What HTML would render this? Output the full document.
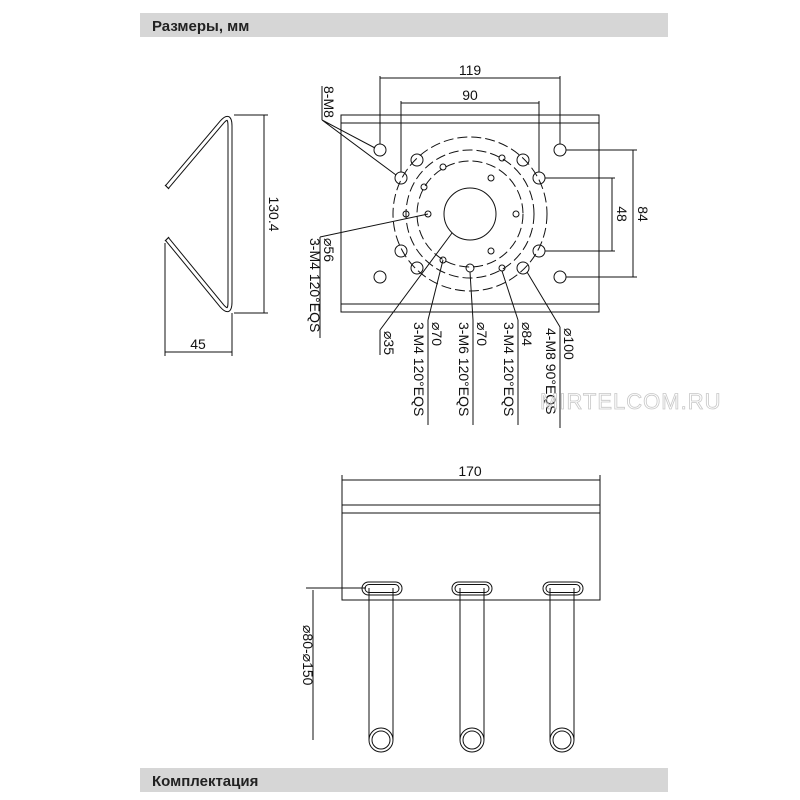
<!DOCTYPE html>
<html><head><meta charset="utf-8"><style>
body{margin:0;background:#fff;}
svg{display:block;font-family:"Liberation Sans","DejaVu Sans",sans-serif;}
</style></head><body>
<svg width="800" height="800" viewBox="0 0 800 800">
<rect x="140" y="13" width="528" height="24" fill="#d6d6d6"/>
<text x="152" y="31" font-size="15" font-weight="bold" fill="#222">Размеры, мм</text>
<rect x="140" y="768" width="528" height="24" fill="#d6d6d6"/>
<text x="152" y="786" font-size="15" font-weight="bold" fill="#222">Комплектация</text>

<!-- side view wire (double line) -->
<path d="M167 187 L222 122 Q230 113 230 126 L230 302 Q230 315 222 306 L167 239" fill="none" stroke="#111" stroke-width="5" stroke-linejoin="round"/>
<path d="M167 187 L222 122 Q230 113 230 126 L230 302 Q230 315 222 306 L167 239" fill="none" stroke="#fff" stroke-width="3" stroke-linejoin="round"/>
<path d="M165 185 L169 189 M165 241 L169 237" stroke="#111" stroke-width="1.2"/>

<g stroke="#111" stroke-width="1" fill="none">
<path d="M234 115 L268 115 M234 313 L268 313 M264 115 L264 313"/>
<path d="M165 243 L165 356 M232 313 L232 356 M165 352 L232 352"/>

<!-- top view plate -->
<rect x="341" y="115" width="258" height="197"/>
<path d="M341 123 L599 123 M341 304 L599 304"/>
<circle cx="470" cy="214" r="26"/>
<g stroke-dasharray="10 4">
<circle cx="470" cy="214" r="53"/>
<circle cx="470" cy="214" r="64"/>
<circle cx="470" cy="214" r="77"/>
</g>
<circle cx="380" cy="150" r="6"/><circle cx="560" cy="150" r="6"/>
<circle cx="380" cy="277" r="6"/><circle cx="560" cy="277" r="6"/>
<circle cx="401" cy="178" r="6"/><circle cx="539" cy="178" r="6"/>
<circle cx="401" cy="251" r="6"/><circle cx="539" cy="251" r="6"/>
<circle cx="417" cy="160" r="6"/><circle cx="523" cy="160" r="6"/>
<circle cx="417" cy="268" r="6"/><circle cx="523" cy="268" r="6"/>
<circle cx="443" cy="167" r="3"/><circle cx="502" cy="158" r="3"/>
<circle cx="424" cy="187" r="3"/><circle cx="491" cy="178" r="3"/>
<circle cx="516" cy="214" r="3"/><circle cx="406" cy="214" r="3"/>
<circle cx="428" cy="214" r="3"/><circle cx="491" cy="251" r="3"/>
<circle cx="443" cy="260" r="3"/><circle cx="502" cy="268" r="3"/>
<circle cx="470" cy="268" r="4"/>
<!-- dims -->
<path d="M380 76 L380 144 M560 76 L560 144 M380 78 L560 78"/>
<path d="M401 101 L401 172 M539 101 L539 172 M401 103 L539 103"/>
<path d="M566 150 L637 150 M566 277 L637 277 M633 150 L633 277"/>
<path d="M545 178 L615 178 M545 251 L615 251 M612 178 L612 251"/>
<!-- leaders -->
<path d="M322 120 L375 148 M322 120 L396 175 M322 86 L322 120"/>
<path d="M320 237 L320 338 M320 237 L428 214"/>
<path d="M380 330 L380 355 M380 330 L452 233"/>
<path d="M428 320 L428 425 M428 320 L443 260"/>
<path d="M473 320 L473 425 M473 320 L470 272"/>
<path d="M518 320 L518 425 M518 320 L502 271"/>
<path d="M560 327 L560 428 M560 327 L527 272"/>

<!-- bottom view -->
<rect x="342" y="505" width="258" height="95"/>
<path d="M342 513 L600 513"/>
<path d="M342 475 L342 505 M600 475 L600 505 M342 480 L600 480"/>
<g>
<rect x="362" y="582" width="40" height="13" rx="6.5"/><rect x="365" y="584.5" width="34" height="8" rx="4"/>
<rect x="452" y="582" width="40" height="13" rx="6.5"/><rect x="455" y="584.5" width="34" height="8" rx="4"/>
<rect x="543" y="582" width="40" height="13" rx="6.5"/><rect x="546" y="584.5" width="34" height="8" rx="4"/>
</g>
<path d="M369 588 L369 740 M393 588 L393 740 M460 588 L460 740 M484 588 L484 740 M550 588 L550 740 M574 588 L574 740"/>
<g fill="#fff">
<circle cx="381" cy="740" r="12"/><circle cx="381" cy="740" r="9"/>
<circle cx="472" cy="740" r="12"/><circle cx="472" cy="740" r="9"/>
<circle cx="562" cy="740" r="12"/><circle cx="562" cy="740" r="9"/>
</g>
<path d="M306 588 L366 588 M313 590 L313 740"/>
</g>

<g font-size="14" fill="#111">
<text x="470" y="75" text-anchor="middle">119</text>
<text x="470" y="100" text-anchor="middle">90</text>
<text x="470" y="476" text-anchor="middle">170</text>
<text x="198" y="349" text-anchor="middle">45</text>
<text transform="translate(269,214) rotate(90)" text-anchor="middle">130.4</text>
<text transform="translate(638,214) rotate(90)" text-anchor="middle">84</text>
<text transform="translate(617,214) rotate(90)" text-anchor="middle">48</text>
<text transform="translate(324,86) rotate(90)">8-M8</text>
<text transform="translate(324,238) rotate(90)">⌀56</text>
<text transform="translate(310,238) rotate(90)">3-M4 120°EQS</text>
<text transform="translate(384,331) rotate(90)">⌀35</text>
<text transform="translate(432,322) rotate(90)">⌀70</text>
<text transform="translate(414,322) rotate(90)">3-M4 120°EQS</text>
<text transform="translate(477,322) rotate(90)">⌀70</text>
<text transform="translate(459,322) rotate(90)">3-M6 120°EQS</text>
<text transform="translate(522,322) rotate(90)">⌀84</text>
<text transform="translate(504,322) rotate(90)">3-M4 120°EQS</text>
<text transform="translate(564,328) rotate(90)">⌀100</text>
<text transform="translate(546,328) rotate(90)">4-M8 90°EQS</text>
<text transform="translate(303,625) rotate(90)">⌀80-⌀150</text>
</g>
<text x="540" y="409" font-size="22" fill="none" stroke="#c8c8c8" stroke-width="0.8" letter-spacing="1">MIRTELCOM.RU</text>
</svg>
</body></html>
